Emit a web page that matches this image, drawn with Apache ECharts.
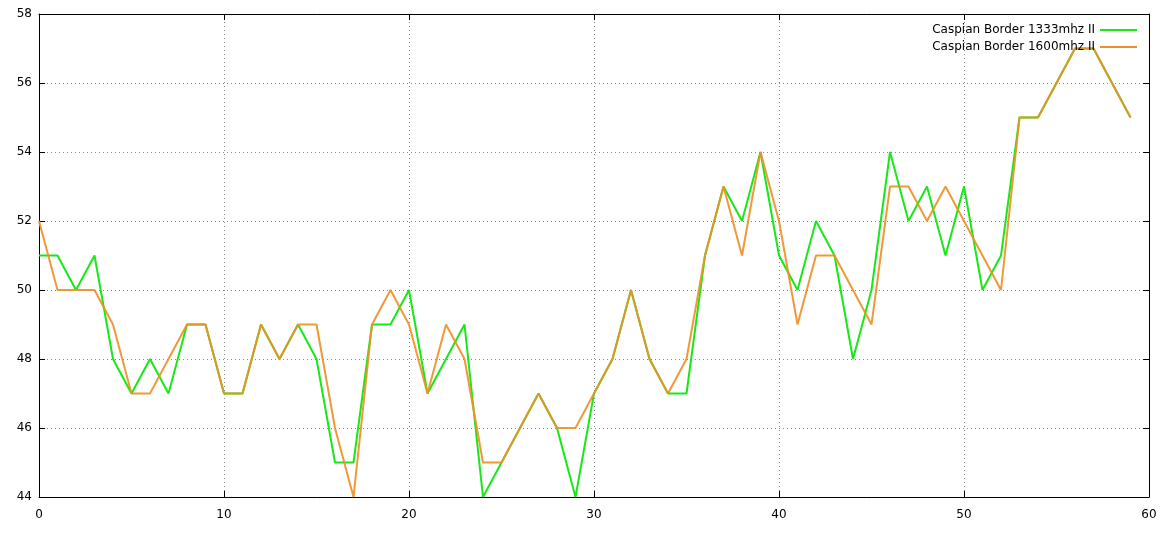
<!DOCTYPE html>
<html>
<head>
<meta charset="utf-8">
<script src="https://cdn.jsdelivr.net/npm/echarts@6/dist/echarts.min.js"></script>
<style>
html,body{margin:0;padding:0;background:#fff;}
#chart{width:1170px;height:551px;}
</style>
</head>
<body>
<div id="chart"></div>
<script>
var seriesNames = ['Caspian Border 1333mhz II', 'Caspian Border 1600mhz II'];
var xTicks = [0, 10, 20, 30, 40, 50, 60];
var yTicks = [44, 46, 48, 50, 52, 54, 56, 58];
var green1333 = [51,51,50,51,48,47,48,47,49,49,47,47,49,48,49,48,45,45,49,49,
                 50,47,48,49,44,45,46,47,46,44,47,48,50,48,47,47,51,53,52,54,
                 51,50,52,51,48,50,54,52,53,51,53,50,51,55,55,56,57,57,56,55];
var orange1600 = [52,50,50,50,49,47,47,48,49,49,47,47,49,48,49,49,46,44,49,50,
                  49,47,49,48,45,45,46,47,46,46,47,48,50,48,47,48,51,53,51,54,
                  52,49,51,51,50,49,53,53,52,53,52,51,50,55,55,56,57,57,56,55];

function pairs(arr){ return arr.map(function(v,i){ return [i, v]; }); }

var font = 'DejaVu Sans, Verdana, sans-serif';
var chart = echarts.init(document.getElementById('chart'), null, {renderer:'canvas'});
var xMin = xTicks[0], xMax = xTicks[xTicks.length-1];
var yMin = yTicks[0], yMax = yTicks[yTicks.length-1];

function xAx(pos, labels, grid){
  return {
    type:'value', position:pos, min:xMin, max:xMax, interval:10,
    axisLine:{show:true, onZero:false, lineStyle:{color:'#000', width:1}},
    axisTick:{show:true, inside:true, length:6, lineStyle:{color:'#000'}},
    axisLabel:{show:labels, color:'#000', fontFamily:font, fontSize:12, margin:12},
    splitLine:{show:grid, lineStyle:{color:'#888', type:[1,3], width:1}}
  };
}
function yAx(pos, labels, grid){
  return {
    type:'value', position:pos, min:yMin, max:yMax, interval:2,
    axisLine:{show:true, onZero:false, lineStyle:{color:'#000', width:1}},
    axisTick:{show:true, inside:true, length:6, lineStyle:{color:'#000'}},
    axisLabel:{show:labels, color:'#000', fontFamily:font, fontSize:12, margin:7},
    splitLine:{show:grid, lineStyle:{color:'#888', type:[1,3], width:1}}
  };
}

chart.setOption({
  animation:false,
  backgroundColor:'#fff',
  grid:{left:39, right:21, top:14, bottom:54, containLabel:false},
  legend:{
    show:true, orient:'vertical', right:28, top:19, align:'right',
    icon:'rect', itemWidth:37, itemHeight:2, itemGap:5,
    textStyle:{color:'#000', fontFamily:font, fontSize:12},
    data:seriesNames
  },
  xAxis:[xAx('bottom', true, true), xAx('top', false, false)],
  yAxis:[yAx('left', true, true), yAx('right', false, false)],
  series:[
    {name:seriesNames[0], type:'line', data:pairs(green1333), xAxisIndex:0, yAxisIndex:0,
     showSymbol:false, symbol:'none', color:'#18e818', lineStyle:{color:'#18e818', width:2}},
    {name:seriesNames[1], type:'line', data:pairs(orange1600), xAxisIndex:0, yAxisIndex:0,
     showSymbol:false, symbol:'none', color:'#ee9028', lineStyle:{color:'#ee9028', width:2, opacity:0.92}}
  ]
});
</script>
</body>
</html>
